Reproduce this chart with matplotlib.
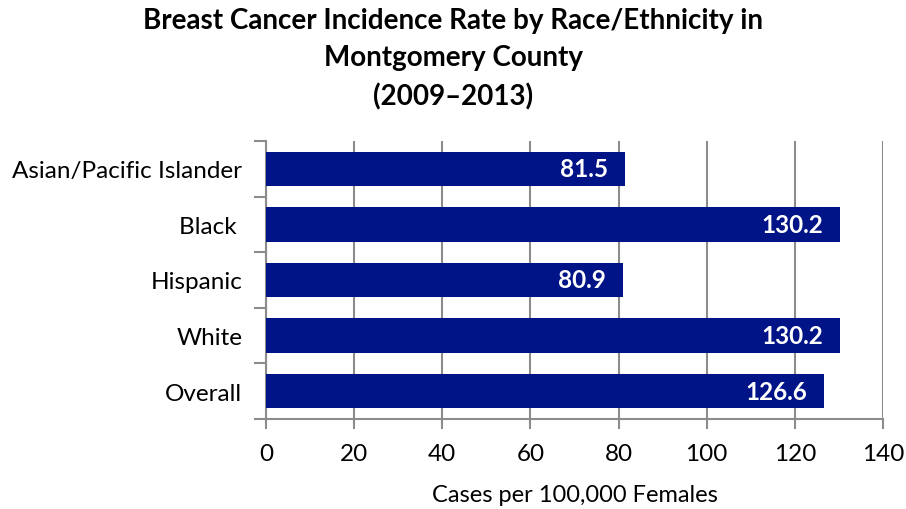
import matplotlib.pyplot as plt

groups = ["Asian/Pacific Islander", "Black ", "Hispanic", "White", "Overall"]
rates = [81.5, 130.2, 80.9, 130.2, 126.6]
xticks = [0, 20, 40, 60, 80, 100, 120, 140]

plt.rcParams['font.family'] = ['Lato', 'DejaVu Sans']

BAR = '#001487'
GRID = '#8c8c8c'

fig = plt.figure(figsize=(9.06, 5.10), dpi=100)
ax = fig.add_axes([0.2936, 0.1765, 0.6810, 0.5451])

ypos = list(range(len(groups)))
ax.barh(ypos, rates, height=0.62, color=BAR, zorder=3)
for y, v in zip(ypos, rates):
    ax.text(v - 3.8, y, f"{v:.1f}", ha='right', va='center', color='white',
            fontsize=17.5, fontweight='bold', zorder=4)

ax.set_xlim(0, 140)
ax.set_ylim(len(groups) - 0.5, -0.5)
ax.set_xticks(xticks)
ax.set_xticklabels([str(t) for t in xticks], fontsize=17.5)
ax.set_yticks(ypos)
ax.set_yticklabels(groups, fontsize=17.5)
ax.tick_params(axis='y', length=0, pad=17)
ax.set_yticks([i - 0.5 for i in range(len(groups) + 1)], minor=True)
ax.tick_params(axis='y', which='minor', length=9, width=1.5, color=GRID)
ax.tick_params(axis='x', length=7, width=1.5, color=GRID, pad=10)

ax.grid(axis='x', color=GRID, linewidth=1.5, zorder=0)
for side in ('top', 'right'):
    ax.spines[side].set_visible(False)
for side in ('left', 'bottom'):
    ax.spines[side].set_color(GRID)
    ax.spines[side].set_linewidth(1.5)

ax.set_xlabel("Cases per 100,000 Females", fontsize=17, labelpad=15)
fig.suptitle("Breast Cancer Incidence Rate by Race/Ethnicity in\nMontgomery County\n(2009\u20132013)",
             fontsize=20, fontweight='bold', x=0.5, y=0.984, linespacing=1.53)

fig.savefig("out.png", dpi=100)
